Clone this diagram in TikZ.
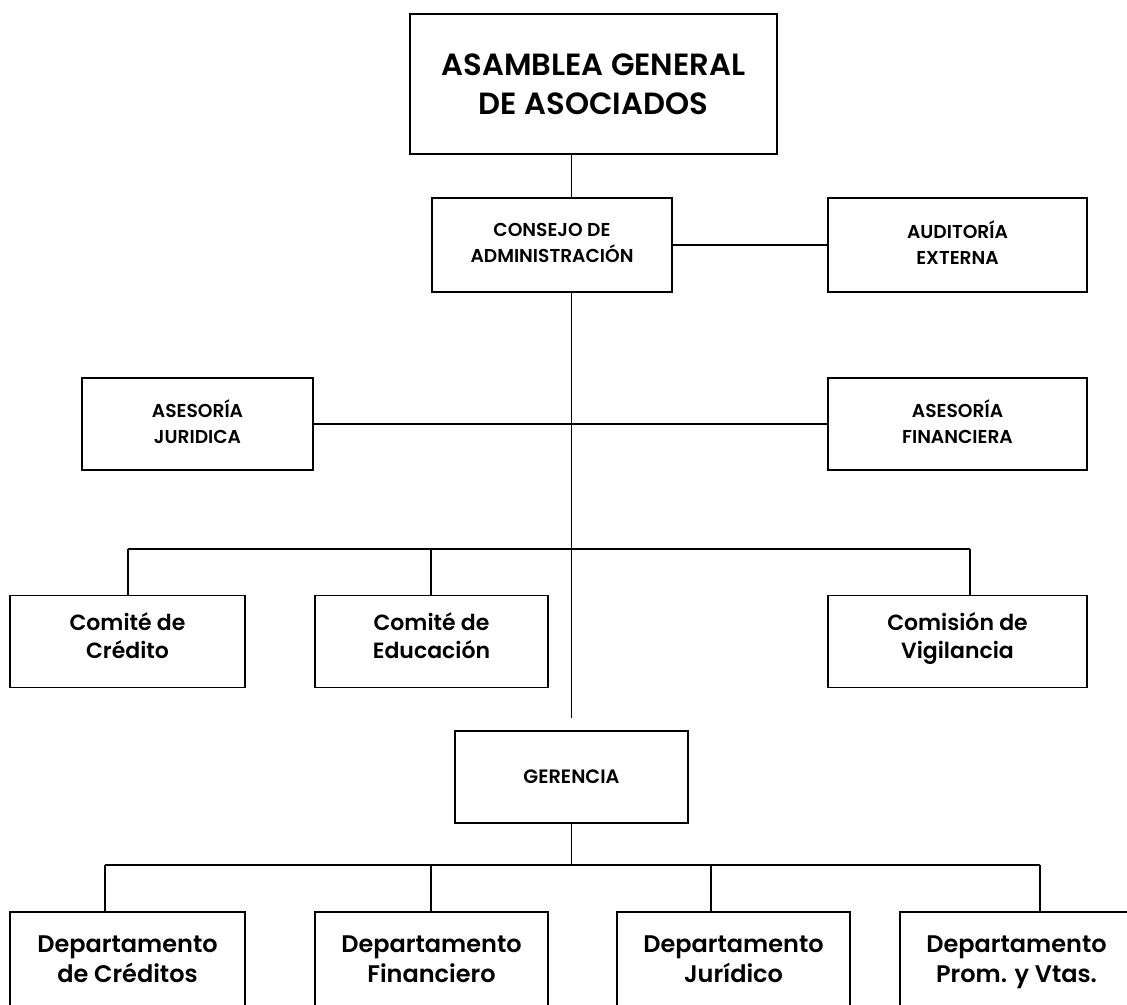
\documentclass[tikz,border=0pt]{standalone}
\usepackage{fontspec}
\setmainfont{Poppins}[UprightFont={* Medium},BoldFont={* SemiBold}]
\begin{document}
\begin{tikzpicture}[x=.75pt,y=-.75pt,
    caja/.style={draw,line width=1.4pt,align=center,inner sep=0pt,
      minimum width=174.75pt,minimum height=69pt,text depth=3pt,
      font=\fontsize{14}{19.5}\selectfont\bfseries},
    depto/.style={caja,text depth=0pt,font=\fontsize{18}{22}\selectfont\bfseries},
    comite/.style={caja,text depth=9pt,font=\fontsize{16.5}{21}\selectfont\bfseries},
    linea/.style={line width=1.1pt}]
      \useasboundingbox (0,0) rectangle (1127,1004);

      \node (asamblea) at (593.5,84) [caja,minimum width=275.25pt,minimum height=105pt,text depth=-7pt,
        font=\fontsize{23}{29}\selectfont\bfseries] {ASAMBLEA GENERAL\\DE ASOCIADOS};

      \node (consejo) at (552,245) [caja,minimum width=180pt,minimum height=70.5pt] {CONSEJO DE\\ADMINISTRACIÓN};
      \node (auditoria) at (957.5,245) [caja,minimum width=194.25pt,minimum height=70.5pt] {AUDITORÍA\\EXTERNA};

      \node (asjuridica) at (197.5,424) [caja,minimum width=173.25pt] {ASESORÍA\\JURIDICA};
      \node (asfinanciera) at (957.5,424) [caja,minimum width=194.25pt] {ASESORÍA\\FINANCIERA};

      \node (credito) at (127.5,641.5) [comite,minimum width=176.25pt] {Comité de\\Crédito};
      \node (educacion) at (431.5,641.5) [comite] {Comité de\\Educación};
      \node (vigilancia) at (957.5,641.5) [comite,minimum width=194.25pt] {Comisión de\\Vigilancia};

      \node (gerencia) at (571.5,777) [caja,text depth=-4pt,font=\fontsize{14.5}{19.5}\selectfont\bfseries] {GERENCIA};

      \node (dcreditos) at (127.5,959) [depto,minimum width=176.25pt,minimum height=70.5pt] {Departamento\\de Créditos};
      \node (dfinanciero) at (431.5,959) [depto,minimum height=70.5pt] {Departamento\\Financiero};
      \node (djuridico) at (733.5,959) [depto,minimum height=70.5pt] {Departamento\\Jurídico};
      \node (dpromocion) at (1016.5,959) [depto,minimum height=70.5pt] {Departamento\\Prom. y Vtas.};

      \coordinate (finEje) at (571.5,718);
      \coordinate (c1) at (128,549);
      \coordinate (c2) at (431,549);
      \coordinate (c3) at (970,549);
      \coordinate (d1) at (105,865);
      \coordinate (d2) at (431,865);
      \coordinate (d3) at (711,865);
      \coordinate (d4) at (1040,865);

      \draw[linea] (asamblea.south -| gerencia) -- (consejo.north -| gerencia);
      \draw[linea] (consejo.south -| gerencia) -- (finEje);
      \draw[linea] (consejo) -- (auditoria);
      \draw[linea] (asjuridica) -- (asfinanciera);

      \draw[linea] (c1) -- (c3);
      \path[linea] (c1) edge (c1 |- credito.north)
                   (c2) edge (c2 |- educacion.north)
                   (c3) edge (c3 |- vigilancia.north);

      \draw[linea] (gerencia) -- (gerencia |- d1);
      \draw[linea] (d1) -- (d4);
      \path[linea] (d1) edge (d1 |- dcreditos.north)
                   (d2) edge (d2 |- dfinanciero.north)
                   (d3) edge (d3 |- djuridico.north)
                   (d4) edge (d4 |- dpromocion.north);

    \end{tikzpicture}
\end{document}
